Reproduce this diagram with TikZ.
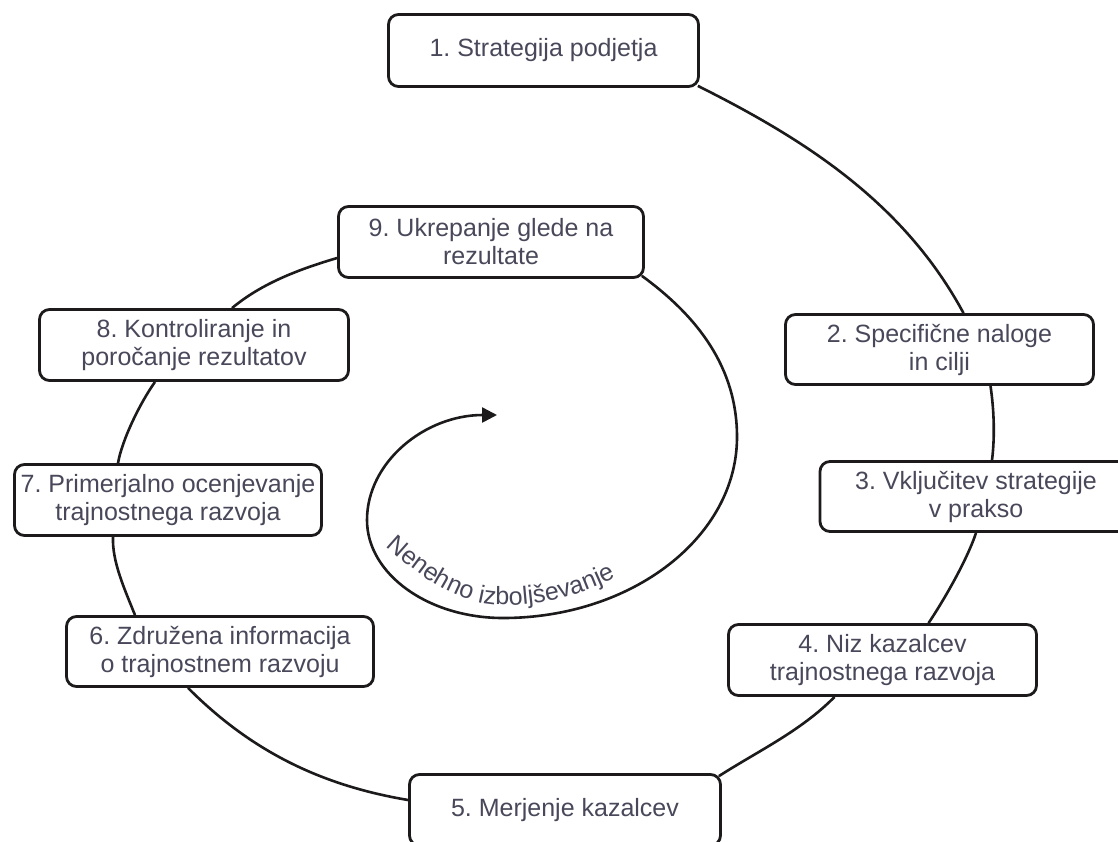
\documentclass[tikz,border=0pt]{standalone}
\usepackage{fontspec}
\setmainfont{Liberation Sans}
\usetikzlibrary{arrows.meta,backgrounds,decorations.text}
\definecolor{ink}{RGB}{28,26,27}
\definecolor{txt}{RGB}{72,72,90}
\frenchspacing
\tikzset{
  stage/.style={draw=ink, line width=2.8pt, rounded corners=10pt, fill=white,
    text=txt, align=center, inner sep=0pt, minimum width=309pt,
    minimum height=71pt, font=\fontsize{25}{28}\selectfont},
  ring/.style={draw=ink, line width=2.6pt},
}
\begin{document}
\begin{tikzpicture}[x=1pt,y=-1pt]
\path[use as bounding box] (0,0) rectangle (1118,841);
\clip (0,0) rectangle (1118,841);

% the nine stages of the cycle
\node[stage, minimum width=310pt, minimum height=72pt] (b1) at (543.5,50.5) {1. Strategija podjetja};
\node[stage, minimum width=308pt, minimum height=70pt] (b2) at (939.5,349.5) {2. Specifične naloge\\in cilji};
\node[stage, minimum width=312pt, minimum height=70pt] (b3) at (976,496.5) {3. Vključitev strategije\\v prakso};
\node[stage, minimum width=308pt] (b4) at (882.5,660) {4. Niz kazalcev\\trajnostnega razvoja};
\node[stage, minimum width=311pt] (b5) at (565,810) {5. Merjenje kazalcev};
\node[stage, minimum width=307pt, minimum height=70pt] (b6) at (220,651.5) {6. Združena informacija\\o trajnostnem razvoju};
\node[stage, minimum width=307pt] (b7) at (168,500) {7. Primerjalno ocenjevanje\\trajnostnega razvoja};
\node[stage, minimum width=309pt] (b8) at (194,345) {8. Kontroliranje in\\poročanje rezultatov};
\node[stage, minimum width=305pt] (b9) at (491,242) {9. Ukrepanje glede na\\rezultate};

\coordinate (tip) at (497,415);

\begin{scope}[on background layer]
  % outer ring linking the stages
  \draw[ring] ([shift={(-2pt,2pt)}]b1.south east) .. controls (806,140) and (904,203) .. ([xshift=24pt]b2.north);
  \draw[ring] ([xshift=51pt]b2.south) .. controls (994,410) and (995,436) .. ([xshift=16pt]b3.north);
  \draw[ring] (b3.south) .. controls (967,560) and (944,600) .. ([xshift=46pt]b4.north);
  \draw[ring] ([xshift=-48pt]b4.south) .. controls (801,731) and (758,751) .. ([shift={(-3pt,-3pt)}]b5.north east);
  \draw[ring] ([yshift=10pt]b5.west) .. controls (319,785) and (250,750) .. ([xshift=-32pt]b6.south);
  \draw[ring] ([xshift=-85pt]b6.north) .. controls (125,590) and (112,562) .. ([xshift=-55pt]b7.south);
  \draw[ring] ([xshift=-50pt]b7.north) .. controls (122,440) and (140,403) .. ([xshift=-39pt]b8.south);
  \draw[ring] ([xshift=38pt]b8.north) .. controls (262,283) and (300,269) .. ([yshift=-16pt]b9.west);

  % inner spiral of continual improvement
  \draw[ring, -{Triangle[length=15pt,width=15pt]}]
    ([shift={(-3pt,3pt)}]b9.south east) .. controls (697,316) and (737,367) .. (737,437)
    .. controls (737,537) and (632,618) .. (503,618)
    .. controls (428,618) and (367,574) .. (367,520)
    .. controls (367,462) and (425,415) .. (tip);
\end{scope}

% label running along the inside of the spiral
\path[decorate, decoration={text along path, text align=left,
    text={|\fontsize{25}{28}\selectfont\color{txt}|Nenehno izboljševanje}}]
  (386,546) .. controls (420,577) and (458,605) .. (503,605)
  .. controls (548,605) and (584,594) .. (620,575);
\end{tikzpicture}
\end{document}
